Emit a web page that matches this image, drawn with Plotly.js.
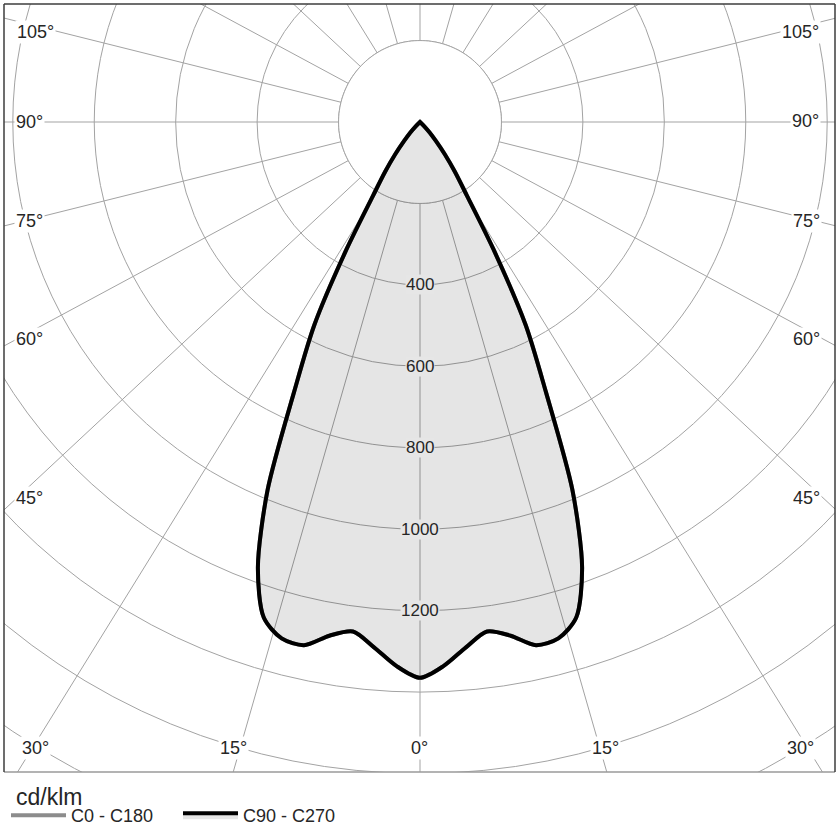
<!DOCTYPE html>
<html><head><meta charset="utf-8">
<script src="https://cdn.plot.ly/plotly-3.0.1.min.js"></script>
<style>
html,body{margin:0;padding:0;width:840px;height:840px;overflow:hidden;background:#fff}
#chart{position:absolute;left:-380px;top:-678px;width:1600px;height:1600px}
</style>
</head><body>
<div id="chart"></div>
<script>
// ---- data ----
const gammaDeg = [0,2.5,5,7.5,10,12.5,15,17.5,20,22.5,25,27.5,30,32.5,35,37.5,40,42.5,45,47.5,50,55,60,65,70,75,80,85,90];
const intensityC90 = [1365,1337,1295,1262,1281,1316,1313,1276,1164,978,732,562,360,215,150,100,60,35,15,0,0,0,0,0,0,0,0,0,0];
const intensityC0  = [1365,1337,1295,1262,1281,1316,1313,1276,1164,978,732,562,360,215,150,100,60,35,15,0,0,0,0,0,0,0,0,0,0];
const radialTickValues = [400,600,800,1000,1200];
const radialTickText = ['400','600','800','1000','1200'];
const angleTickText = ['105°','90°','75°','60°','45°','30°','15°','0°','15°','30°','45°','60°','75°','90°','105°'];
const seriesNames = ['C0 - C180','C90 - C270'];
const unitLabel = 'cd/klm';
const innerRing = 200;

// ---- geometry (viewport px) ----
const PLOT = 1600, CX = 420, CY = 122;
const OFFX = PLOT/2 - CX, OFFY = PLOT/2 - CY;
const PXPERCD = 0.4072;
const RMAX = (PLOT/2) / PXPERCD;
const px = v => (v + OFFX) / PLOT;
const py = v => 1 - (v + OFFY) / PLOT;

// angular grid spacing as drawn in the reference (slightly widened towards the horizontal)
const GRID_K = 0.9325;
const gridTheta = [];
for (let a = 0; a < 360; a += 15) {
  const t = a * Math.PI / 180;
  let d = Math.atan2(Math.sin(t), GRID_K * Math.cos(t)) * 180 / Math.PI;
  d = ((d % 360) + 360) % 360;
  gridTheta.push(d);
}

function mirror(g, v){
  const th = [], r = [];
  for (let i = g.length - 1; i > 0; i--) { th.push(-g[i]); r.push(v[i]); }
  for (let i = 0; i < g.length; i++) { th.push(g[i]); r.push(v[i]); }
  return {th, r};
}
const c90 = mirror(gammaDeg, intensityC90);
const c0 = mirror(gammaDeg, intensityC0);

const ringTheta = [], ringR = [];
for (let a = 0; a <= 360; a += 2) { ringTheta.push(a); ringR.push(innerRing); }

const GRID = '#a3a3a3';
const TXT = '#262626';
const FONT = 'Liberation Sans, Arial, sans-serif';

const traces = [
  {type:'scatterpolar', r: ringR, theta: ringTheta, mode:'lines', fill:'toself',
   fillcolor:'#ffffff', line:{color:GRID, width:1}, showlegend:false, hoverinfo:'skip'},
  {type:'scatterpolar', r: c0.r, theta: c0.th, mode:'lines', name: seriesNames[0],
   line:{color:'#8c8c8c', width:4, shape:'spline', smoothing:0.8}, hoverinfo:'skip'},
  {type:'scatterpolar', r: c90.r, theta: c90.th, mode:'lines', name: seriesNames[1],
   fill:'toself', fillcolor:'rgba(0,0,0,0.1)',
   line:{color:'#000000', width:4, shape:'spline', smoothing:0.8}, hoverinfo:'skip'},
  {type:'scatter', x:[], y:[], showlegend:false, hoverinfo:'skip'}
];

const anglePos = [
  [35,32],[29,122],[29,221],[29,339],[29,498],[35,748],
  [233,748],[419,748],[605,748],
  [800,748],[806,498],[806,339],[806,221],[805,121],[800,32]
];

const annotations = [];
angleTickText.forEach((t, i) => {
  annotations.push({text:t, xref:'paper', yref:'paper', x:px(anglePos[i][0]), y:py(anglePos[i][1]),
    xanchor:'center', yanchor:'middle', showarrow:false, bgcolor:'#ffffff', borderpad:1,
    font:{family:FONT, size:18, color:TXT}});
});
radialTickValues.forEach((v, i) => {
  annotations.push({text:radialTickText[i], xref:'x', yref:'y', x:0, y:-v,
    xanchor:'center', yanchor:'middle', showarrow:false, bgcolor:'#e6e6e6', borderpad:0,
    font:{family:FONT, size:17, color:TXT}});
});
annotations.push({text:unitLabel, xref:'paper', yref:'paper', x:px(14), y:py(797),
  xanchor:'left', yanchor:'middle', showarrow:false, font:{family:FONT, size:23, color:TXT}});

const L = 4, T = 4, R = 835, B = 772;
const shapes = [
  {type:'rect', xref:'paper', yref:'paper', x0:px(-20), x1:px(860), y0:py(B), y1:py(900), fillcolor:'#fff', line:{width:0}, layer:'above'},
  {type:'rect', xref:'paper', yref:'paper', x0:px(R), x1:px(900), y0:py(-20), y1:py(900), fillcolor:'#fff', line:{width:0}, layer:'above'},
  {type:'rect', xref:'paper', yref:'paper', x0:px(-40), x1:px(L), y0:py(-20), y1:py(900), fillcolor:'#fff', line:{width:0}, layer:'above'},
  {type:'rect', xref:'paper', yref:'paper', x0:px(-40), x1:px(900), y0:py(-40), y1:py(T), fillcolor:'#fff', line:{width:0}, layer:'above'},
  {type:'line', xref:'paper', yref:'paper', x0:px(L), x1:px(R), y0:py(B), y1:py(B), line:{color:'#9a9a9a', width:1.5}, layer:'above'},
  {type:'line', xref:'paper', yref:'paper', x0:px(L), x1:px(L), y0:py(T), y1:py(B), line:{color:'#3c3c3c', width:1.5}, layer:'above'},
  {type:'line', xref:'paper', yref:'paper', x0:px(R), x1:px(R), y0:py(T), y1:py(B), line:{color:'#3c3c3c', width:1.5}, layer:'above'},
  {type:'line', xref:'paper', yref:'paper', x0:px(L), x1:px(R), y0:py(T), y1:py(T), line:{color:'#3c3c3c', width:1.5}, layer:'above'}
];

const layout = {
  width: PLOT, height: PLOT,
  margin:{l:0,r:0,t:0,b:0,pad:0},
  paper_bgcolor:'#ffffff', plot_bgcolor:'rgba(0,0,0,0)',
  font:{family:FONT, color:TXT},
  xaxis:{range:[-RMAX,RMAX], domain:[0,1], visible:false, fixedrange:true},
  yaxis:{range:[-RMAX,RMAX], domain:[0,1], visible:false, fixedrange:true},
  polar:{
    domain:{x:[0,1], y:[0,1]},
    bgcolor:'#ffffff',
    radialaxis:{range:[0,RMAX], tick0:0, dtick:200, showticklabels:false, ticks:'',
      showline:false, gridcolor:GRID, gridwidth:1},
    angularaxis:{rotation:270, direction:'counterclockwise', tickmode:'array', tickvals:gridTheta,
      showticklabels:false, ticks:'', showline:false, gridcolor:GRID, gridwidth:1}
  },
  showlegend:true,
  legend:{orientation:'h', x:px(6), y:py(797), xanchor:'left', yanchor:'top',
    bgcolor:'rgba(0,0,0,0)', itemwidth:55, entrywidth:102, entrywidthmode:'pixels',
    font:{size:18, color:TXT}},
  annotations, shapes
};

Plotly.newPlot('chart', traces, layout, {staticPlot:true, displayModeBar:false});
</script>
</body></html>
